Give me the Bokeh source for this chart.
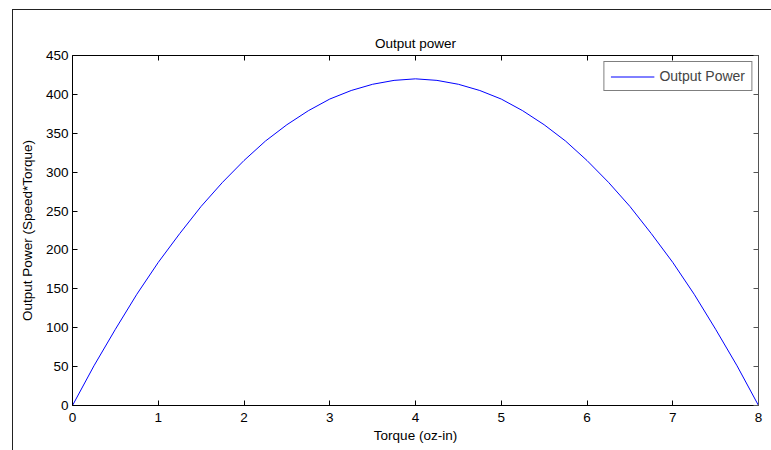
from bokeh.plotting import figure
from bokeh.models import (LinearAxis, Range1d, FixedTicker, Legend, LegendItem,
                          CustomLabelingPolicy, InlineStyleSheet, Title)
from bokeh.embed import file_html
from bokeh.resources import INLINE

torque = [0, 0.25, 0.5, 0.75, 1, 1.25, 1.5, 1.75, 2, 2.25, 2.5, 2.75, 3, 3.25, 3.5, 3.75, 4,
          4.25, 4.5, 4.75, 5, 5.25, 5.5, 5.75, 6, 6.25, 6.5, 6.75, 7, 7.25, 7.5, 7.75, 8]
power = [0, 51, 98, 143, 184, 221, 256, 287, 315, 340, 361, 379, 394, 405, 413, 418, 420,
         418, 413, 405, 394, 379, 361, 340, 315, 287, 256, 221, 184, 143, 98, 51, 0]
x_ticks = [0, 1, 2, 3, 4, 5, 6, 7, 8]
y_ticks = [0, 50, 100, 150, 200, 250, 300, 350, 400, 450]

FONT = "Liberation Sans"
FS = "13.5px"

p = figure(width=771, height=450, output_backend="svg", toolbar_location=None,
           x_range=Range1d(0, 8), y_range=Range1d(0, 450),
           min_border_left=72, min_border_right=13, min_border_top=55, min_border_bottom=45)
p.outline_line_color = None
p.grid.visible = False
p.background_fill_color = "white"
p.border_fill_color = "white"

for ax in p.xaxis:
    ax.ticker = FixedTicker(ticks=x_ticks)
for ax in p.yaxis:
    ax.ticker = FixedTicker(ticks=y_ticks)

for ax in list(p.xaxis) + list(p.yaxis):
    ax.major_tick_in = 5
    ax.major_tick_out = 0
    ax.minor_tick_in = 0
    ax.minor_tick_out = 0
    ax.axis_line_color = "black"
    ax.major_tick_line_color = "black"
    ax.major_label_text_font = FONT
    ax.major_label_text_font_size = FS
    ax.major_label_text_color = "black"
    ax.axis_label_text_font = FONT
    ax.axis_label_text_font_size = FS
    ax.axis_label_text_font_style = "normal"
    ax.axis_label_text_color = "black"
    ax.major_label_standoff = 4

p.xaxis.major_label_standoff = 7
p.xaxis.axis_label = "Torque (oz-in)"
p.yaxis.axis_label = "Output Power (Speed*Torque)"
p.xaxis.axis_label_standoff = 3
p.yaxis.axis_label_standoff = 8

no_labels = "for (const i of indices) indices.unset(i); return indices"
top = LinearAxis(ticker=FixedTicker(ticks=x_ticks),
                 major_label_policy=CustomLabelingPolicy(code=no_labels),
                 major_label_overrides={t: "" for t in x_ticks},
                 major_tick_in=5, major_tick_out=0, minor_tick_in=0, minor_tick_out=0,
                 axis_line_color="black", major_tick_line_color="black", major_label_standoff=0)
right = LinearAxis(ticker=FixedTicker(ticks=y_ticks),
                   major_label_policy=CustomLabelingPolicy(code=no_labels),
                   major_label_overrides={t: "" for t in y_ticks},
                   major_tick_in=5, major_tick_out=0, minor_tick_in=0, minor_tick_out=0,
                   axis_line_color="#555555", major_tick_line_color="#555555", major_label_standoff=0)
p.add_layout(top, "above")
p.add_layout(right, "right")

title = Title(text="Output power", align="center", vertical_align="top",
              text_font=FONT, text_font_size=FS,
              text_font_style="normal", text_color="black", standoff=6)
p.add_layout(title, "above")

r = p.line(torque, power, line_color="#0000FF", line_width=1)

legend = Legend(items=[LegendItem(label="Output Power", renderers=[r])],
                location="top_right", label_text_font=FONT, label_text_font_size="14px",
                border_line_color="black", border_line_width=1,
                glyph_width=44, glyph_height=13, label_height=13,
                padding=6, margin=6, spacing=0, label_standoff=5)
p.add_layout(legend)

p.stylesheets = [InlineStyleSheet(css="""
:host::after {
  content: "";
  position: absolute;
  left: 12px; top: 9px; right: 0; bottom: 0;
  border-left: 1.5px solid #222;
  border-top: 1.5px solid #222;
  pointer-events: none;
}
""")]

open("out.html", "w").write(file_html(p, INLINE))
